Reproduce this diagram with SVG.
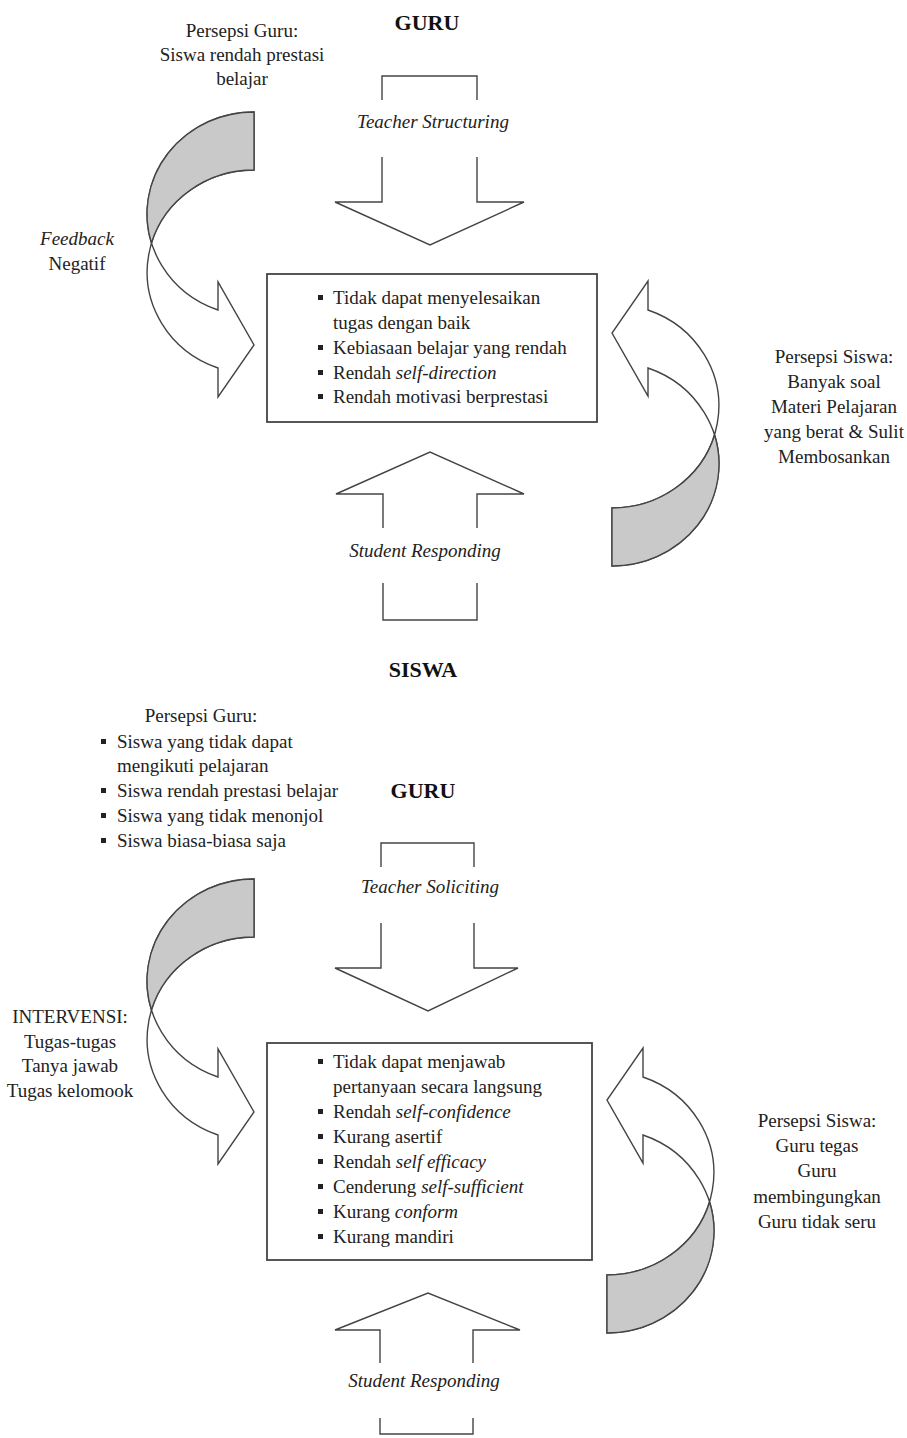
<svg xmlns="http://www.w3.org/2000/svg" xmlns:xlink="http://www.w3.org/1999/xlink" width="907" height="1438" viewBox="0 0 907 1438">
<style>
text{font-family:"Liberation Serif","Times New Roman",serif;font-size:19px;fill:#222}
.c{text-anchor:middle}
.b{font-weight:bold;font-size:22px;fill:#111}
.i{font-style:italic}
.ln{fill:none;stroke:#444;stroke-width:1.4;stroke-linejoin:miter}
.box{fill:#fff;stroke:#444;stroke-width:1.8}
.bul{fill:#222}
.cw{fill:#fff;stroke:#444;stroke-width:1.4}
.cg{fill:#c9c9c9;stroke:#444;stroke-width:1.4}
</style>
<defs>
<g id="curve">
<path class="cw" d="M254,112 A107,102 0 0,0 218,310 L218,282 L254,345 L218,397 L218,368 A107,102 0 0,1 254,170 Z"/>
<path class="cg" d="M254,112 A107,102 0 0,0 151.4,243 A107,102 0 0,1 254,170 Z"/>
</g>
</defs>
<rect width="907" height="1438" fill="#fff"/>

<g id="connectors">
<path class="ln" d="M382,100 V76 H477 V100 M382,157 V202 H335 L430,245 L524,202 H477 V157"/>
<path class="ln" d="M383,528 V494 H336 L430,452 L524,494 H477 V528 M383,583 V620 H477 V583"/>
<use xlink:href="#curve" href="#curve"/>
<use xlink:href="#curve" href="#curve" transform="rotate(180 433 339)"/>
<path class="ln" d="M381,867 V843 H474 V867 M381,923 V968 H335 L428,1011 L518,968 H474 V923"/>
<path class="ln" d="M380,1363 V1330 H335 L428,1293 L520,1330 H473 V1363 M380,1418 V1434 H473 V1418"/>
<use xlink:href="#curve" href="#curve" transform="translate(0,767)"/>
<use xlink:href="#curve" href="#curve" transform="translate(-5,767) rotate(180 433 339)"/>
<text class="c i" x="433" y="128">Teacher Structuring</text>
<text class="c i" x="425" y="557">Student Responding</text>
<text class="c i" x="430" y="893">Teacher Soliciting</text>
<text class="c i" x="424" y="1387">Student Responding</text>
</g>

<g id="guru1"><text class="c b" x="427" y="30">GURU</text></g>
<g id="persepsi-guru1">
<text class="c" x="242" y="37">Persepsi Guru:</text>
<text class="c" x="242" y="61">Siswa rendah prestasi</text>
<text class="c" x="242" y="85">belajar</text>
</g>
<g id="feedback">
<text class="c i" x="77" y="245">Feedback</text>
<text class="c" x="77" y="270">Negatif</text>
</g>
<g id="box1">
<rect class="box" x="267" y="274" width="330" height="148"/>
<rect class="bul" x="318" y="295" width="5" height="5"/>
<rect class="bul" x="318" y="345" width="5" height="5"/>
<rect class="bul" x="318" y="370" width="5" height="5"/>
<rect class="bul" x="318" y="394" width="5" height="5"/>
<text x="333" y="304">Tidak dapat menyelesaikan</text>
<text x="333" y="329">tugas dengan baik</text>
<text x="333" y="354">Kebiasaan belajar yang rendah</text>
<text x="333" y="379">Rendah <tspan class="i">self-direction</tspan></text>
<text x="333" y="403">Rendah motivasi berprestasi</text>
</g>
<g id="persepsi-siswa1">
<text class="c" x="834" y="363">Persepsi Siswa:</text>
<text class="c" x="834" y="388">Banyak soal</text>
<text class="c" x="834" y="413">Materi Pelajaran</text>
<text class="c" x="834" y="438">yang berat &amp; Sulit</text>
<text class="c" x="834" y="463">Membosankan</text>
</g>
<g id="siswa1"><text class="c b" x="423" y="677">SISWA</text></g>

<g id="persepsi-guru2">
<text class="c" x="201" y="722">Persepsi Guru:</text>
<rect class="bul" x="101" y="739" width="5" height="5"/>
<rect class="bul" x="101" y="788" width="5" height="5"/>
<rect class="bul" x="101" y="813" width="5" height="5"/>
<rect class="bul" x="101" y="838" width="5" height="5"/>
<text x="117" y="748">Siswa yang tidak dapat</text>
<text x="117" y="772">mengikuti pelajaran</text>
<text x="117" y="797">Siswa rendah prestasi belajar</text>
<text x="117" y="822">Siswa yang tidak menonjol</text>
<text x="117" y="847">Siswa biasa-biasa saja</text>
</g>
<g id="guru2"><text class="c b" x="423" y="798">GURU</text></g>
<g id="intervensi">
<text class="c" x="70" y="1023">INTERVENSI:</text>
<text class="c" x="70" y="1048">Tugas-tugas</text>
<text class="c" x="70" y="1072">Tanya jawab</text>
<text class="c" x="70" y="1097">Tugas kelomook</text>
</g>
<g id="box2">
<rect class="box" x="267" y="1043" width="325" height="217"/>
<rect class="bul" x="318" y="1059" width="5" height="5"/>
<rect class="bul" x="318" y="1109" width="5" height="5"/>
<rect class="bul" x="318" y="1134" width="5" height="5"/>
<rect class="bul" x="318" y="1159" width="5" height="5"/>
<rect class="bul" x="318" y="1184" width="5" height="5"/>
<rect class="bul" x="318" y="1209" width="5" height="5"/>
<rect class="bul" x="318" y="1234" width="5" height="5"/>
<text x="333" y="1068">Tidak dapat menjawab</text>
<text x="333" y="1093">pertanyaan secara langsung</text>
<text x="333" y="1118">Rendah <tspan class="i">self-confidence</tspan></text>
<text x="333" y="1143">Kurang asertif</text>
<text x="333" y="1168">Rendah <tspan class="i">self efficacy</tspan></text>
<text x="333" y="1193">Cenderung <tspan class="i">self-sufficient</tspan></text>
<text x="333" y="1218">Kurang <tspan class="i">conform</tspan></text>
<text x="333" y="1243">Kurang mandiri</text>
</g>
<g id="persepsi-siswa2">
<text class="c" x="817" y="1127">Persepsi Siswa:</text>
<text class="c" x="817" y="1152">Guru tegas</text>
<text class="c" x="817" y="1177">Guru</text>
<text class="c" x="817" y="1203">membingungkan</text>
<text class="c" x="817" y="1228">Guru tidak seru</text>
</g>
</svg>
